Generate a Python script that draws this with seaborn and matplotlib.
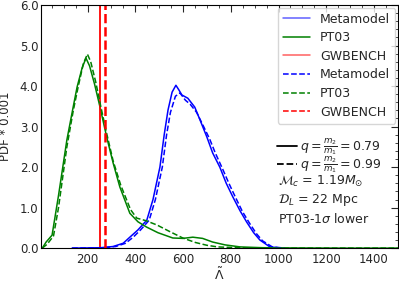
import numpy as np
import pandas as pd
import matplotlib
matplotlib.use('Agg')
import matplotlib.pyplot as plt
import seaborn as sns
from matplotlib.lines import Line2D
from matplotlib.ticker import MultipleLocator, FormatStrFormatter

# PT03, q = 0.79 (solid)
pt_lam_a = [10, 26, 51, 78, 113, 140, 156, 177, 193, 208, 229, 252, 280, 307, 335, 377,
            411, 447, 495, 557, 599, 641, 682, 724, 776, 839, 933, 1037, 1245, 1500]
pt_pdf_a = [0.0, 0.15, 0.32, 1.3, 2.67, 3.5, 3.98, 4.45, 4.69, 4.5, 4.05, 3.48, 2.74, 2.1,
            1.51, 0.86, 0.65, 0.52, 0.38, 0.25, 0.24, 0.27, 0.24, 0.15, 0.08, 0.03, 0.01,
            0.005, 0.0, 0.0]
# PT03, q = 0.99 (dashed)
pt_lam_b = [10, 31, 57, 78, 113, 140, 161, 182, 199, 213, 234, 255, 281, 307, 339, 380,
            406, 443, 491, 547, 599, 651, 700, 745, 828, 933, 1500]
pt_pdf_b = [0.0, 0.1, 0.3, 1.0, 2.5, 3.4, 4.0, 4.55, 4.79, 4.6, 4.1, 3.5, 2.8, 2.15, 1.55,
            0.95, 0.74, 0.68, 0.57, 0.4, 0.25, 0.14, 0.07, 0.03, 0.01, 0.0, 0.0]
# Metamodel, q = 0.79 (solid)
mm_lam_a = [135, 255, 307, 349, 377, 411, 448, 474, 503, 521, 537, 554, 570, 583, 595, 620,
            649, 672, 700, 724, 754, 781, 809, 839, 867, 896, 922, 964, 1016]
mm_pdf_a = [0.0, 0.01, 0.04, 0.12, 0.27, 0.45, 0.69, 1.2, 2.0, 2.8, 3.41, 3.85, 4.02, 3.9,
            3.78, 3.7, 3.48, 3.15, 2.74, 2.35, 2.0, 1.6, 1.26, 0.92, 0.64, 0.38, 0.2, 0.03, 0.0]
# Metamodel, q = 0.99 (dashed)
mm_lam_b = [135, 266, 318, 359, 391, 422, 458, 484, 513, 531, 547, 568, 587, 610, 630, 657,
            682, 711, 735, 766, 792, 820, 849, 878, 907, 933, 974, 1026]
mm_pdf_b = [0.0, 0.01, 0.04, 0.12, 0.27, 0.45, 0.69, 1.2, 2.0, 2.8, 3.35, 3.75, 3.83, 3.65,
            3.55, 3.35, 3.05, 2.7, 2.35, 1.95, 1.6, 1.25, 0.9, 0.62, 0.36, 0.18, 0.03, 0.0]
# GWBENCH estimates
gw_lam_a = 252
gw_lam_b = 274

sns.set_style('white')
plt.rcParams['font.family'] = ['DejaVu Sans']
plt.rcParams['font.size'] = 9

fig = plt.figure(figsize=(3.99, 2.81), dpi=100)
ax = fig.add_axes([0.103, 0.117, 0.894, 0.865])

sns.lineplot(x=mm_lam_a, y=mm_pdf_a, ax=ax, color='blue', lw=1.1, estimator=None)
sns.lineplot(x=pt_lam_a, y=pt_pdf_a, ax=ax, color='green', lw=1.1, estimator=None)
ax.axvline(gw_lam_a, color='red', lw=1.3)
sns.lineplot(x=mm_lam_b, y=mm_pdf_b, ax=ax, color='blue', lw=1.1, ls='--', estimator=None)
sns.lineplot(x=pt_lam_b, y=pt_pdf_b, ax=ax, color='green', lw=1.1, ls='--', estimator=None)
ax.axvline(gw_lam_b, color='red', lw=1.8, ls='--')

ax.set_xlim(5, 1500)
ax.set_ylim(0, 6)
ax.yaxis.set_major_locator(MultipleLocator(1))
ax.yaxis.set_minor_locator(MultipleLocator(0.2))
ax.yaxis.set_major_formatter(FormatStrFormatter('%.1f'))
ax.xaxis.set_major_locator(MultipleLocator(200))
ax.xaxis.set_minor_locator(MultipleLocator(50))
ax.tick_params(which='both', direction='in', top=True, right=True, labelsize=8.5)
ax.tick_params(axis='y', pad=2)
ax.tick_params(which='major', length=5, width=0.8)
ax.tick_params(which='minor', length=2.5, width=0.6)
for s in ax.spines.values():
    s.set_color('black')
    s.set_linewidth(0.8)
ax.set_xlabel(r'$\tilde{\Lambda}$', labelpad=0.5)
ax.set_ylabel('PDF * 0.001', fontsize=8.5)
ax.yaxis.set_label_coords(-0.082, 0.5)

handles = [Line2D([], [], color='#6060ff', lw=1.1),
           Line2D([], [], color='green', lw=1.1),
           Line2D([], [], color='#ff6060', lw=1.1),
           Line2D([], [], color='blue', lw=1.1, ls='--'),
           Line2D([], [], color='green', lw=1.1, ls='--'),
           Line2D([], [], color='red', lw=1.1, ls='--')]
labels = ['Metamodel', 'PT03', 'GWBENCH', 'Metamodel', 'PT03', 'GWBENCH']
leg = ax.legend(handles, labels, loc='upper right', fontsize=9, handlelength=2.2,
                labelspacing=0.45, borderaxespad=0.2, fancybox=True)
ax.add_artist(leg)

qh = [Line2D([], [], color='black', lw=1.3), Line2D([], [], color='black', lw=1.3, ls='--')]
ql = [r'$q=\frac{m_2}{m_1}=0.79$', r'$q=\frac{m_2}{m_1}=0.99$']
ax.legend(qh, ql, loc='upper left', bbox_to_anchor=(0.66, 0.46), frameon=False, fontsize=9,
          handlelength=1.6, handletextpad=0.3, labelspacing=-0.25, borderpad=0,
          borderaxespad=0)

ax.text(0.664, 0.275, r'$\mathcal{M}_c$ = 1.19$M_{\odot}$', transform=ax.transAxes,
        fontsize=9, va='center')
ax.text(0.664, 0.197, r'$\mathcal{D}_L$ = 22 Mpc', transform=ax.transAxes, fontsize=9, va='center')
ax.text(0.664, 0.12, r'PT03-1$\sigma$ lower', transform=ax.transAxes, fontsize=9, va='center')

fig.savefig('out.png', dpi=100)
